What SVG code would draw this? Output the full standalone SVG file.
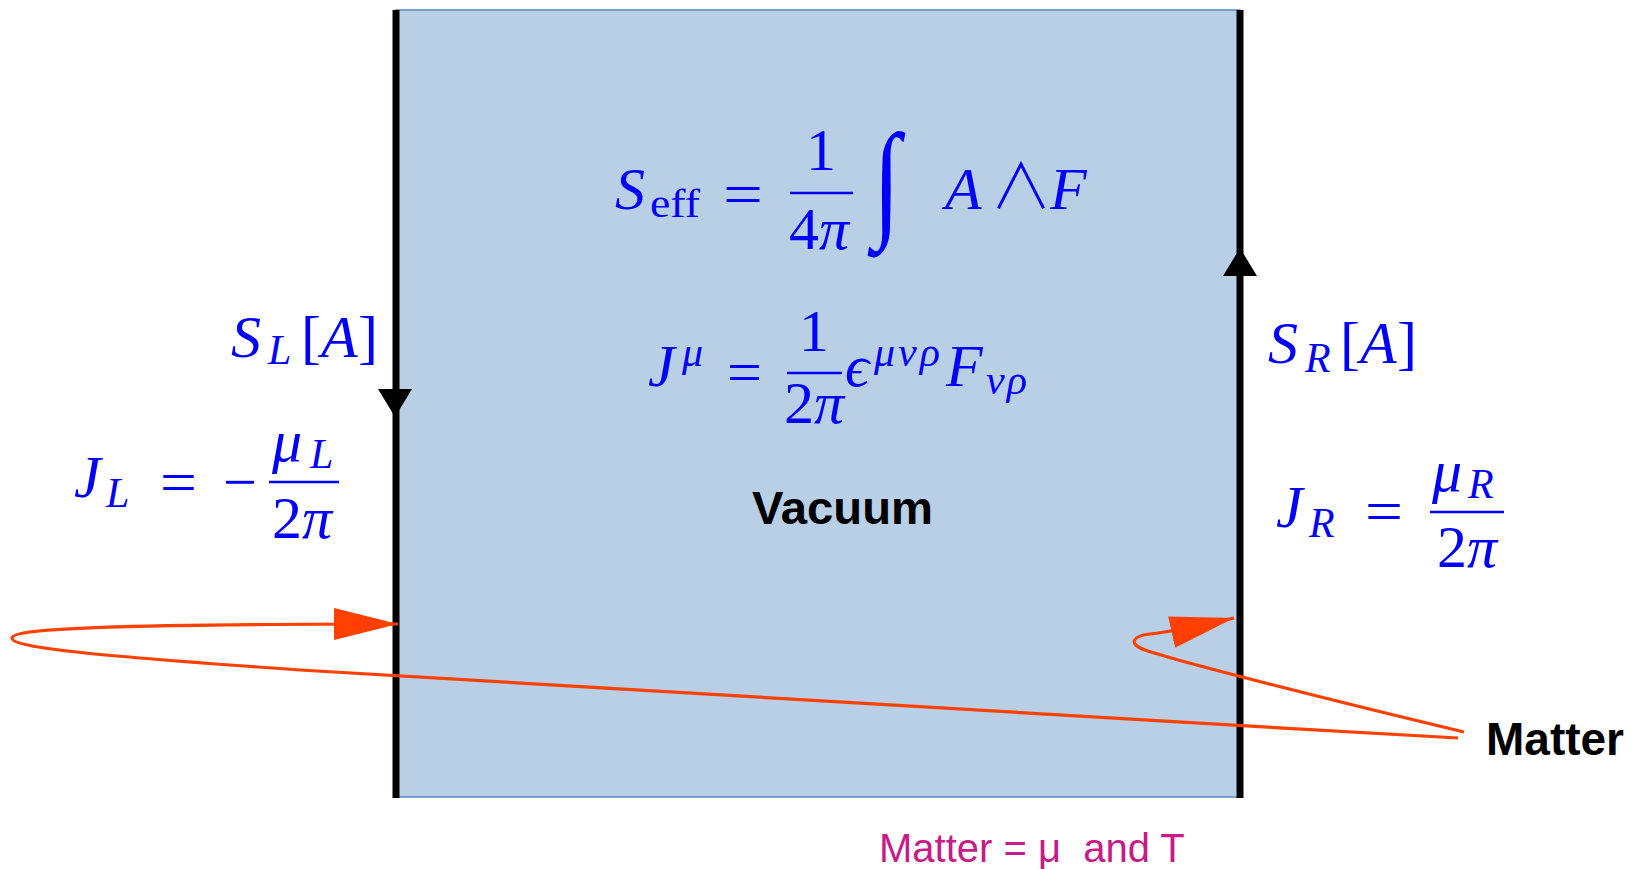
<svg xmlns="http://www.w3.org/2000/svg" width="1634" height="869" viewBox="0 0 1634 869">
<style>
.m{font-family:"Liberation Serif","DejaVu Serif",serif;fill:#0000ff}
.i{font-style:italic}
.big{font-size:60px}
.sub{font-size:42px}
.bar{stroke:#0000ff;stroke-width:2.5}
.edge{stroke:#000;stroke-width:7;fill:none}
.matter{stroke:#ff4000;stroke-width:3.2;fill:none}
.lbl{font-family:"Liberation Sans",Arial,sans-serif;font-weight:bold;font-size:46px;fill:#000}
.wedge{font-family:"Noto Sans CJK JP","Noto Sans CJK SC","DejaVu Sans",sans-serif;font-weight:300;font-size:62px;fill:#0000ff}
</style>
<defs>
<marker id="ah" markerUnits="userSpaceOnUse" markerWidth="66" markerHeight="34" refX="64" refY="16" orient="auto" viewBox="0 0 66 34">
<path d="M0,0 L64,16 L0,32 Z" fill="#ff4000"/>
</marker>
</defs>
<rect width="1634" height="869" fill="#fff"/>
<g id="vacuum">
<rect x="396" y="10" width="844" height="787" fill="#b9cfe6" stroke="#5b86bd" stroke-width="1.5"/>
<text class="lbl" x="752" y="524" textLength="181" lengthAdjust="spacingAndGlyphs">Vacuum</text>
</g>
<g id="seff">
<text class="m i big" x="615" y="209">S</text>
<text class="m" x="650" y="217" font-size="40" textLength="50" lengthAdjust="spacingAndGlyphs">eff</text>
<text class="m big" x="723" y="214" textLength="40" lengthAdjust="spacingAndGlyphs">=</text>
<text class="m big" x="821" y="170" text-anchor="middle">1</text>
<line class="bar" x1="790" y1="193" x2="853" y2="193"/>
<text class="m big" x="819" y="249" text-anchor="middle">4<tspan class="i">π</tspan></text>
<text class="m" x="873" y="238" font-size="100" transform="translate(0,-84) scale(1,1.29)" style="font-style:italic">∫</text>
<text class="m i big" x="945" y="209">A</text>
<text class="wedge" x="990" y="209">∧</text>
<text class="m i big" x="1050" y="209">F</text>
</g>
<g id="current">
<text class="m big"><tspan class="i" x="648" y="386">J</tspan><tspan class="i sub" x="682" y="366">μ</tspan></text>
<text class="m big" x="727" y="392" textLength="35" lengthAdjust="spacingAndGlyphs">=</text>
<text class="m big" x="814" y="351" text-anchor="middle">1</text>
<line class="bar" x1="787" y1="373" x2="842" y2="373"/>
<text class="m big" x="814" y="423" text-anchor="middle">2<tspan class="i">π</tspan></text>
<text class="m big"><tspan class="i" x="845" y="386">ϵ</tspan><tspan class="i sub" x="874" y="366" letter-spacing="3">μνρ</tspan><tspan class="i" x="946" y="386">F</tspan><tspan class="i sub" x="986" y="394" letter-spacing="2">νρ</tspan></text>
</g>
<g id="left-boundary">
<text class="m big"><tspan class="i" x="231" y="357">S</tspan><tspan class="i sub" x="268" y="364">L</tspan><tspan x="301" y="357">[</tspan><tspan class="i" x="321">A</tspan><tspan x="358">]</tspan></text>
<text class="m big"><tspan class="i" x="74" y="497">J</tspan><tspan class="i sub" x="106" y="507">L</tspan></text>
<text class="m big" x="160" y="502" textLength="37" lengthAdjust="spacingAndGlyphs">=</text>
<text class="m big" x="223" y="502" textLength="34" lengthAdjust="spacingAndGlyphs">−</text>
<text class="m big"><tspan class="i" x="272" y="461">μ</tspan><tspan class="i sub" x="310" y="468">L</tspan></text>
<line class="bar" x1="269" y1="482" x2="339" y2="482"/>
<text class="m big" x="302" y="538" text-anchor="middle">2<tspan class="i">π</tspan></text>
</g>
<g id="right-boundary">
<text class="m big"><tspan class="i" x="1268" y="363">S</tspan><tspan class="i sub" x="1305" y="372">R</tspan><tspan x="1340" y="363">[</tspan><tspan class="i" x="1360">A</tspan><tspan x="1397">]</tspan></text>
<text class="m big"><tspan class="i" x="1276" y="527">J</tspan><tspan class="i sub" x="1309" y="537">R</tspan></text>
<text class="m big" x="1365" y="531" textLength="38" lengthAdjust="spacingAndGlyphs">=</text>
<text class="m big"><tspan class="i" x="1432" y="491">μ</tspan><tspan class="i sub" x="1468" y="498">R</tspan></text>
<line class="bar" x1="1430" y1="512" x2="1504" y2="512"/>
<text class="m big" x="1467" y="567" text-anchor="middle">2<tspan class="i">π</tspan></text>
</g>
<g id="matter">
<text class="lbl" x="1486" y="755" textLength="138" lengthAdjust="spacingAndGlyphs">Matter</text>
</g>
<g id="note">
<text x="879" y="862" font-family="Liberation Sans,Arial,sans-serif" font-size="40" fill="#c71b8a" xml:space="preserve">Matter = μ  and T</text>
</g>
<g id="connectors">
<line class="edge" x1="396" y1="10" x2="396" y2="798"/>
<line class="edge" x1="1240" y1="10" x2="1240" y2="798"/>
<polygon points="378,389 412,389 395,417" fill="#000"/>
<polygon points="1240,248 1223,276 1257,276" fill="#000"/>
<path class="matter" d="M1458,738 C1000,712 500,684 300,670 C100,656 12,648 12,638 C12,628 120,624 398,624" marker-end="url(#ah)"/>
<path class="matter" d="M1464,732 C1330,700 1180,662 1145,650 C1128,644 1132,636 1150,634 C1170,632 1190,628 1234,618" marker-end="url(#ah)"/>
</g>
</svg>
